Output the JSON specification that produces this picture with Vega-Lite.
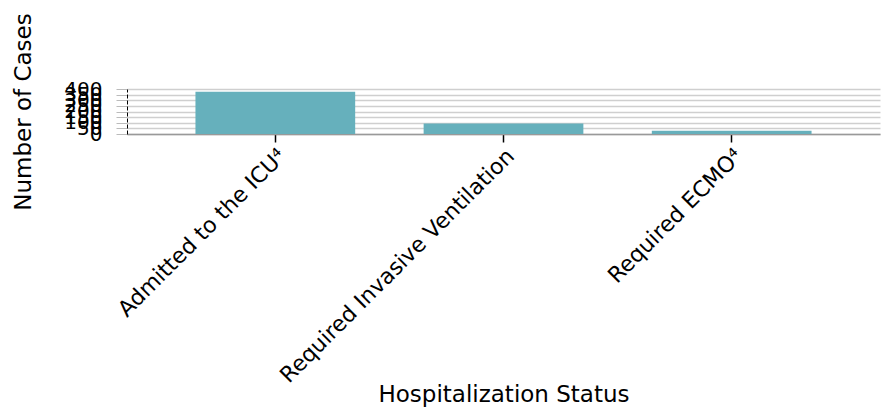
{
  "$schema": "https://vega.github.io/schema/vega-lite/v6.json",
  "autosize": "none",
  "width": 753,
  "height": 45,
  "padding": {"left": 127, "top": 89, "right": 13, "bottom": 277},
  "background": "white",
  "data": {
    "values": [
      {"status": "Admitted to the ICU⁴", "cases": 376},
      {"status": "Required Invasive Ventilation", "cases": 94},
      {"status": "Required ECMO⁴", "cases": 28}
    ]
  },
  "config": {
    "font": "DejaVu Sans",
    "view": {"stroke": null}
  },
  "mark": {"type": "bar", "color": "#66b0bc"},
  "encoding": {
    "x": {
      "field": "status",
      "type": "nominal",
      "sort": null,
      "scale": {"paddingInner": 0.3, "paddingOuter": 0.3},
      "axis": {
        "title": "Hospitalization Status",
        "titleFont": "DejaVu Sans",
        "titleFontSize": 23,
        "titleFontWeight": "normal",
        "titleColor": "black",
        "titleY": 267,
        "titleBaseline": "alphabetic",
        "labelAngle": -45,
        "labelAlign": "right",
        "labelBaseline": "top",
        "labelFontSize": 22,
        "labelLimit": 0,
        "labelColor": "black",
        "labelPadding": 3,
        "tickColor": "black",
        "tickSize": 8,
        "tickWidth": 1.5,
        "domainColor": "#999999",
        "domainWidth": 1.5,
        "grid": false
      }
    },
    "y": {
      "field": "cases",
      "type": "quantitative",
      "scale": {"domain": [0, 400], "nice": false},
      "axis": {
        "title": "Number of Cases",
        "titleFont": "DejaVu Sans",
        "titleFontSize": 23,
        "titleFontWeight": "normal",
        "titleColor": "black",
        "titleX": -104,
        "titleBaseline": "middle",
        "values": [0, 50, 100, 150, 200, 250, 300, 350, 400],
        "labelOverlap": false,
        "labelFontSize": 20,
        "labelColor": "black",
        "labelPadding": 14,
        "tickSize": 11,
        "tickColor": "#bbbbbb",
        "domainColor": "black",
        "domainDash": [4, 2],
        "domainWidth": 1,
        "grid": true,
        "gridColor": "#cfcfcf",
        "gridWidth": 1.5
      }
    }
  }
}
